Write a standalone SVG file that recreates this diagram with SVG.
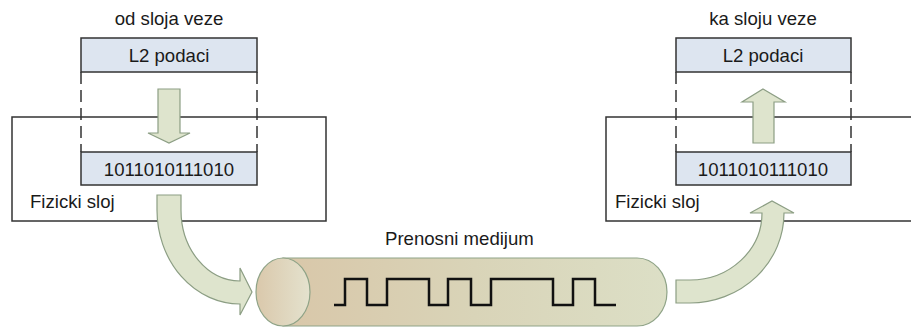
<svg xmlns="http://www.w3.org/2000/svg" width="911" height="327" viewBox="0 0 911 327">
<defs>
<linearGradient id="cyl" x1="0" y1="0" x2="1" y2="0">
<stop offset="0" stop-color="#d9c7a9"/>
<stop offset="0.5" stop-color="#d9d4b8"/>
<stop offset="1" stop-color="#dcdfc6"/>
</linearGradient>
<linearGradient id="capg" x1="0" y1="0" x2="1" y2="0">
<stop offset="0" stop-color="#dac8ab"/>
<stop offset="1" stop-color="#e4e2ce"/>
</linearGradient>
<style>
.t{font-family:"Liberation Sans",Arial,sans-serif;font-size:18.6px;fill:#1a1a1a}
.m{text-anchor:middle}
.layer{fill:#ffffff;stroke:#333333;stroke-width:1.5}
.cell{fill:#dde5f0;stroke:#333333;stroke-width:1.5}
.dash{fill:none;stroke:#333333;stroke-width:1.5;stroke-dasharray:12 6}
.arr{fill:#dee4cd;stroke:#8c9e84;stroke-width:1.2}
.wave{fill:none;stroke:#111111;stroke-width:2.5}
</style>
</defs>

<g id="left-layer">
<rect class="layer" x="12" y="117" width="314" height="104"/>
<text class="t" x="30" y="208">Fizicki sloj</text>
</g>
<g id="right-layer">
<path class="layer" d="M915,117 H606 V221 H915"/>
<text class="t" x="615" y="208">Fizicki sloj</text>
</g>

<g id="left-top">
<text class="t m" x="169" y="25">od sloja veze</text>
<rect class="cell" x="81" y="38" width="176" height="34"/>
<text class="t m" x="169" y="62">L2 podaci</text>
<line class="dash" x1="81" y1="72" x2="81" y2="152"/>
<line class="dash" x1="257" y1="72" x2="257" y2="152"/>
</g>
<g id="left-bits">
<rect class="cell" x="81" y="152" width="176" height="33"/>
<text class="t m" x="169" y="176">1011010111010</text>
</g>

<g id="right-top">
<text class="t m" x="763" y="25">ka sloju veze</text>
<rect class="cell" x="676" y="38" width="175" height="34"/>
<text class="t m" x="763" y="62">L2 podaci</text>
<line class="dash" x1="676" y1="72" x2="676" y2="152"/>
<line class="dash" x1="851" y1="72" x2="851" y2="152"/>
</g>
<g id="right-bits">
<rect class="cell" x="676" y="152" width="175" height="33"/>
<text class="t m" x="763" y="176">1011010111010</text>
</g>

<g id="medium">
<text class="t" x="385" y="245">Prenosni medijum</text>
<path d="M283,258 H637 A30,34 0 0 1 637,326 H283 Z" fill="url(#cyl)" stroke="#8fa387" stroke-width="1.2"/>
<ellipse cx="283" cy="292" rx="27" ry="34" fill="url(#capg)" stroke="#8fa387" stroke-width="1.2"/>
<path class="wave" d="M334,305 H345 V279 H367 V305 H387 V279 H429 V305 H448 V279 H471 V305 H491 V279 H553 V305 H573 V279 H595 V305 H616"/>
</g>

<g id="connectors">
<path class="arr" d="M158,89 H180 V133 H190 L169,143 L148,133 H158 Z"/>
<path class="arr" d="M763,89 L785,102 H774 V143 H753 V102 H742 Z"/>
<path class="arr" d="M157,195 H181 V210 A59,71 0 0 0 240,281 V268 L252,292 L240,315 V304 A83,94 0 0 1 157,210 Z"/>
<path class="arr" d="M676,280 H690 A72,67 0 0 0 762,213 H750 L772,201 L794,213 H784 A94,90 0 0 1 690,303 H676 Z"/>
</g>
</svg>
